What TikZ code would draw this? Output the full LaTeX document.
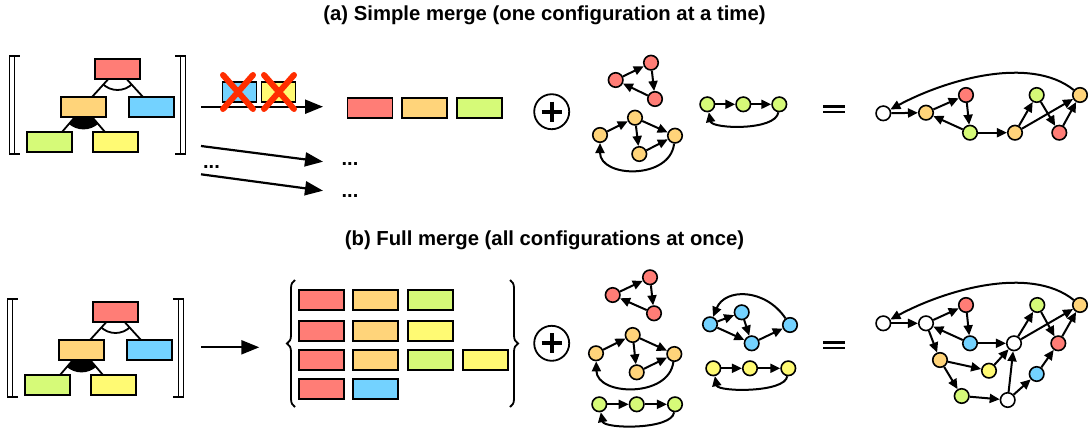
\documentclass[tikz,border=0pt]{standalone}
\usepackage{fontspec}
\setmainfont{Liberation Sans}
\usetikzlibrary{arrows.meta,decorations.pathreplacing}
\definecolor{fred}{RGB}{255,125,118}
\definecolor{forange}{RGB}{255,212,122}
\definecolor{fgreen}{RGB}{214,250,120}
\definecolor{fblue}{RGB}{115,210,255}
\definecolor{fyellow}{RGB}{255,250,115}
\definecolor{xred}{RGB}{255,45,0}
\tikzset{
 fbox/.style={draw, line width=1.9pt, minimum width=45pt, minimum height=20pt, inner sep=0pt, outer sep=0pt},
 sbox/.style={fbox, minimum width=34pt},
 gn/.style={circle, draw, line width=1.6pt, minimum size=14.5pt, inner sep=0pt},
 gr/.style={gn, fill=fred}, go/.style={gn, fill=forange}, gg/.style={gn, fill=fgreen},
 gb/.style={gn, fill=fblue}, gy/.style={gn, fill=fyellow}, gw/.style={gn, fill=white},
 ge/.style={line width=2pt, -{Triangle[length=10pt,width=9pt]}},
 bigarr/.style={line width=2.2pt, -{Triangle[length=18pt,width=14pt]}},
 brk/.style={line width=1.8pt},
 titlefont/.style={font=\fontsize{20.3}{24}\selectfont\bfseries, inner sep=0pt, anchor=base},
 dotsty/.style={font=\fontsize{20}{24}\selectfont\bfseries, inner sep=0pt, anchor=base},
 xmark/.style={line width=6pt, line cap=round, draw=xred},
 brace/.style={line width=1.8pt, decorate, decoration={brace, amplitude=8pt}},
}
\newcommand\featmodel[3]{%
 \begin{scope}[shift={(#2,#3)}]
  \coordinate (fm#1-cr) at (0,0);
  \coordinate (fm#1-co) at (-34,38);
  \coordinate (fm#1-cb) at (34,38);
  \coordinate (fm#1-cg) at (-68,73);
  \coordinate (fm#1-cy) at (-2,73);
  \coordinate (fm#1-tro) at (-25.5,28);
  \coordinate (fm#1-trb) at (25.5,28);
  \coordinate (fm#1-tog) at (-55.5,63);
  \coordinate (fm#1-toy) at (-12.5,63);
  \begin{scope}\clip (0,0) -- (-51,56) -- (51,56) -- cycle;
   \draw[line width=1.8pt, fill=white] (0,0) circle[radius=21];\end{scope}
  \begin{scope}\clip (-34,38) -- (-77,88) -- (9,88) -- cycle;
   \draw[line width=1.8pt, fill=black] (-34,38) circle[radius=21.5];\end{scope}
  \draw[line width=1.8pt] (fm#1-cr) -- (fm#1-tro) (fm#1-cr) -- (fm#1-trb)
    (fm#1-co) -- (fm#1-tog) (fm#1-co) -- (fm#1-toy);
  \node[fbox, fill=fred] (fm#1-red) at (fm#1-cr) {};
  \node[fbox, fill=forange] (fm#1-orange) at (fm#1-co) {};
  \node[fbox, fill=fblue] (fm#1-blue) at (fm#1-cb) {};
  \node[fbox, fill=fgreen] (fm#1-green) at (fm#1-cg) {};
  \node[fbox, fill=fyellow] (fm#1-yellow) at (fm#1-cy) {};
  \draw[brk] (-108,-13) rectangle (-103,85) (-108,-13) -- (-97.5,-13) (-108,85) -- (-97.5,85);
  \draw[brk] (63,-13) rectangle (68,85) (68,-13) -- (57.5,-13) (68,85) -- (57.5,85);
 \end{scope}}
\begin{document}
\begin{tikzpicture}[x=1pt,y=-1pt]
\useasboundingbox[fill=white] (0,0) rectangle (1088,429);
% titles
\node[titlefont] (ta) at (544.5,20) {(a) Simple merge (one configuration at a time)};
\node[titlefont] (tb) at (544.5,245) {(b) Full merge (all configurations at once)};
% feature models
\featmodel{A}{117.5}{69}
\featmodel{B}{115.5}{312}
% (a) arrows
\coordinate (a1s) at (201,106.7); \coordinate (a1e) at (323,106.7);
\coordinate (a2s) at (201,146); \coordinate (a2e) at (323,161.7);
\coordinate (a3s) at (201,174.3); \coordinate (a3e) at (323,190.7);
\draw[bigarr] (a1s) -- (a1e);
\draw[bigarr] (a2s) -- (a2e);
\draw[bigarr] (a3s) -- (a3e);
\node[sbox, fill=fblue] (xa1) at (239.5,92) {};
\node[sbox, fill=fyellow] (xa2) at (278.5,92) {};
\draw[xmark] (223,75) -- (253,109) (253,75) -- (223,109);
\draw[xmark] (264,75) -- (294,109) (294,75) -- (264,109);
\node[dotsty] (d1) at (211.5,168) {...};
\node[dotsty] (d2) at (350,165) {...};
\node[dotsty] (d3) at (350,197) {...};
% (a) configuration
\node[fbox, fill=fred] (ca1) at (370,108) {};
\node[fbox, fill=forange] (ca2) at (424.5,108) {};
\node[fbox, fill=fgreen] (ca3) at (479.5,108) {};
% plus signs
\node[circle, draw, line width=1.8pt, minimum size=35pt, inner sep=0pt] (pa) at (551.7,111.7) {};
\draw[line width=4pt] (541.7,111.7) -- (561.7,111.7) (551.7,101.7) -- (551.7,121.7);
\node[circle, draw, line width=1.8pt, minimum size=35pt, inner sep=0pt] (pb) at (551.7,343.3) {};
\draw[line width=4pt] (541.7,343.3) -- (561.7,343.3) (551.7,333.3) -- (551.7,353.3);
% equals
\draw[line width=2.2pt] (823,106.5) -- (845,106.5) (823,112) -- (845,112);
\draw[line width=2.2pt] (823,342.5) -- (845,342.5) (823,348) -- (845,348);
% (a) small graphs
\node[gr] (ra1) at (651,62.7) {};
\node[gr] (ra2) at (615.7,80) {};
\node[gr] (ra3) at (655,99) {};
\node[go] (oa1) at (600,135) {};
\node[go] (oa2) at (635,117.7) {};
\node[go] (oa3) at (675,135.7) {};
\node[go] (oa4) at (639.3,154) {};
\node[gg] (ga1) at (707.3,104.3) {};
\node[gg] (ga2) at (743.3,104.3) {};
\node[gg] (ga3) at (779.3,104.3) {};
\foreach \u/\v in {ra2/ra1,ra1/ra3,ra3/ra2,oa1/oa2,oa2/oa3,oa2/oa4,oa4/oa3,ga1/ga2,ga2/ga3}
  \draw[ge] (\u) -- (\v);
\draw[ge] (oa3) .. controls (670,180) and (600,178) .. (oa1);
\draw[ge] (ga3) .. controls (776,131) and (712,129) .. (ga1);
% (a) result
\node[gw] (ia-w) at (883.3,113.3) {};
\node[go] (ia-o1) at (926,112.7) {};
\node[gr] (ia-r1) at (966,95) {};
\node[gg] (ia-g1) at (970,132.7) {};
\node[go] (ia-o2) at (1015,132.7) {};
\node[gg] (ia-g2) at (1036.7,95) {};
\node[gr] (ia-r2) at (1059.3,132.7) {};
\node[go] (ia-o3) at (1080,95) {};
\foreach \u/\v in {ia-w/ia-o1,ia-o1/ia-r1,ia-r1/ia-g1,ia-g1/ia-o1,ia-g1/ia-o2,ia-o2/ia-g2,ia-o2/ia-o3,ia-g2/ia-r2,ia-r2/ia-o3}
  \draw[ge] (\u) -- (\v);
\draw[ge] (ia-o3) .. controls (1030,55) and (945,80) .. (ia-w);
% (b) arrow and configuration set
\coordinate (b1s) at (201,347.3); \coordinate (b1e) at (259.3,347.3);
\draw[bigarr] (b1s) -- (b1e);
\node[fbox, fill=fred] (cb11) at (321.7,299.7) {};
\node[fbox, fill=forange] (cb12) at (375.8,299.7) {};
\node[fbox, fill=fgreen] (cb13) at (430.8,299.7) {};
\node[fbox, fill=fred] (cb21) at (321.7,330.7) {};
\node[fbox, fill=forange] (cb22) at (375.8,330.7) {};
\node[fbox, fill=fyellow] (cb23) at (430.8,330.7) {};
\node[fbox, fill=fred] (cb31) at (321.7,360) {};
\node[fbox, fill=forange] (cb32) at (375.8,360) {};
\node[fbox, fill=fgreen] (cb33) at (430.8,360) {};
\node[fbox, fill=fyellow] (cb34) at (485.2,360) {};
\node[fbox, fill=fred] (cb41) at (321.7,389.3) {};
\node[fbox, fill=fblue] (cb42) at (375.8,389.3) {};
\coordinate (brl1) at (295,407); \coordinate (brl2) at (295,280);
\coordinate (brr1) at (510,280); \coordinate (brr2) at (510,407);
\draw[brace] (brl1) -- (brl2);
\draw[brace] (brr1) -- (brr2);
% (b) small graphs
\node[gr] (rb1) at (650,277.3) {};
\node[gr] (rb2) at (612.7,295) {};
\node[gr] (rb3) at (654,313.3) {};
\node[go] (ob1) at (596,353.3) {};
\node[go] (ob2) at (632.7,335) {};
\node[go] (ob3) at (674.3,354) {};
\node[go] (ob4) at (636.7,372.3) {};
\node[gg] (gb1) at (599.3,404.3) {};
\node[gg] (gb2) at (636.7,404.3) {};
\node[gg] (gb3) at (675,404.3) {};
\node[gb] (bb1) at (710,324.3) {};
\node[gb] (bb2) at (741.7,312.3) {};
\node[gb] (bb3) at (751.7,343.3) {};
\node[gb] (bb4) at (790,325) {};
\node[gy] (yb1) at (713.3,368.3) {};
\node[gy] (yb2) at (750,368.3) {};
\node[gy] (yb3) at (788.3,368.3) {};
\foreach \u/\v in {rb2/rb1,rb1/rb3,rb3/rb2,ob1/ob2,ob2/ob3,ob2/ob4,ob4/ob3,gb1/gb2,gb2/gb3,bb1/bb2,bb1/bb3,bb2/bb3,bb3/bb4,yb1/yb2,yb2/yb3}
  \draw[ge] (\u) -- (\v);
\draw[ge] (ob3) .. controls (669,398) and (597,396) .. (ob1);
\draw[ge] (gb3) .. controls (672,430) and (604,429) .. (gb1);
\draw[ge] (yb3) .. controls (785,393) and (718,392) .. (yb1);
\draw[ge] (bb4) .. controls (765,288) and (725,288) .. (bb1);
% (b) result
\node[gw] (ib-w1) at (883.3,323.3) {};
\node[gw] (ib-w2) at (926,323.3) {};
\node[gr] (ib-r1) at (966,305) {};
\node[gb] (ib-b1) at (970,343.3) {};
\node[gw] (ib-w3) at (1014,343.3) {};
\node[gg] (ib-g1) at (1037.3,305) {};
\node[gr] (ib-r2) at (1058.3,343.3) {};
\node[go] (ib-o1) at (1080,305) {};
\node[go] (ib-oa) at (940,360) {};
\node[gy] (ib-y1) at (989,370.7) {};
\node[gg] (ib-gb) at (961.7,396) {};
\node[gw] (ib-w4) at (1007.7,400) {};
\node[gb] (ib-b2) at (1036.7,374) {};
\foreach \u/\v in {ib-w1/ib-w2,ib-w2/ib-r1,ib-r1/ib-b1,ib-b1/ib-w2,ib-b1/ib-w3,ib-w3/ib-g1,ib-w3/ib-o1,ib-g1/ib-r2,ib-r2/ib-o1,ib-w2/ib-oa,ib-oa/ib-y1,ib-y1/ib-w3,ib-oa/ib-gb,ib-gb/ib-w4,ib-w4/ib-w3,ib-w4/ib-b2,ib-b2/ib-r2}
  \draw[ge] (\u) -- (\v);
\draw[ge] (ib-o1) .. controls (1030,265) and (945,290) .. (ib-w1);
\end{tikzpicture}
\end{document}
